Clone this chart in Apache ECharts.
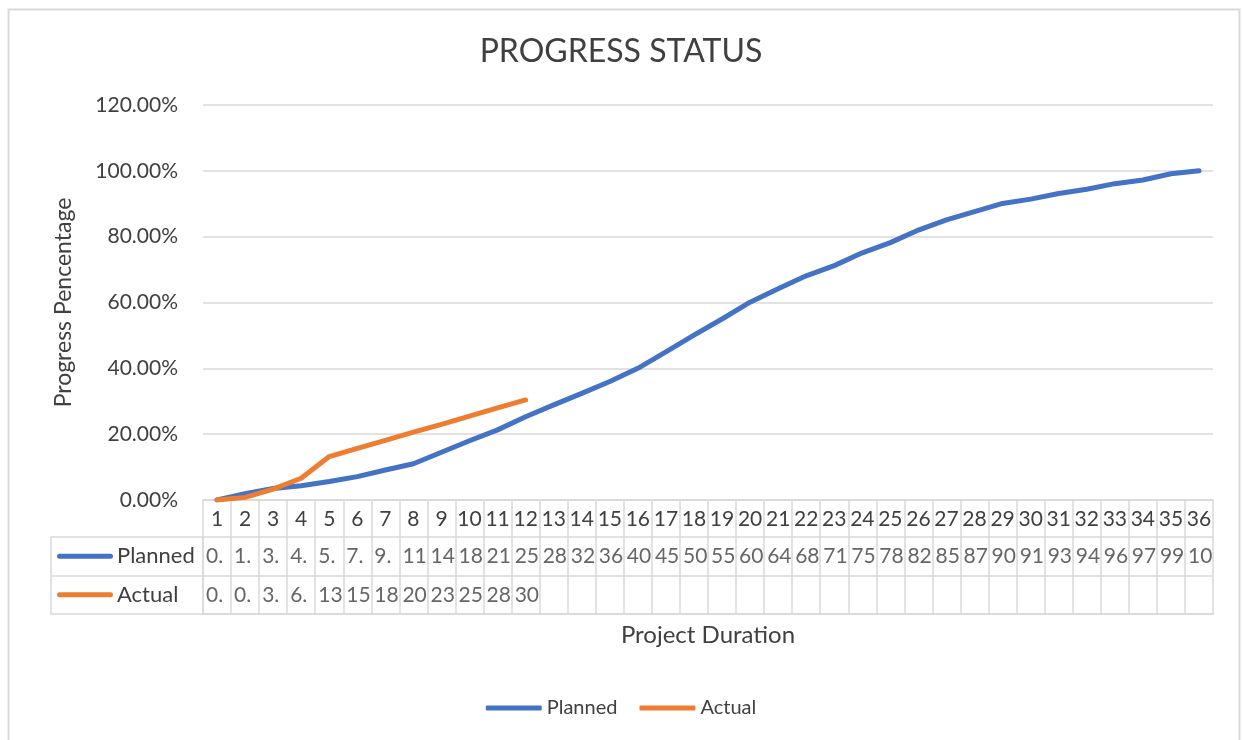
<!DOCTYPE html>
<html><head><meta charset="utf-8">
<script src="https://cdn.jsdelivr.net/npm/echarts@6/dist/echarts.min.js"></script>
<style>html,body{margin:0;padding:0;background:#fff}#c{width:1242px;height:740px}</style>
</head><body><div id="c"></div>
<script>
const durations = ['1','2','3','4','5','6','7','8','9','10','11','12','13','14','15','16','17','18','19','20','21','22','23','24','25','26','27','28','29','30','31','32','33','34','35','36'];
const planned = [0, 1.9, 3.5, 4.3, 5.6, 7.1, 9.1, 11.0, 14.5, 18.0, 21.3, 25.3, 28.9, 32.4, 36.0, 40.0, 45.0, 50.1, 55.0, 60.1, 64.2, 68.1, 71.2, 75.1, 78.2, 82.0, 85.1, 87.6, 90.1, 91.4, 93.1, 94.4, 96.1, 97.2, 99.1, 100.0];
const actual = [0, 0.8, 3.3, 6.6, 13.2, 15.7, 18.1, 20.6, 23.0, 25.5, 28.0, 30.4];
const seriesNames = ['Planned', 'Actual'];
const yMin = 0, yMax = 120, yStep = 20;

const BLUE = '#4472C4', ORANGE = '#ED7D31', GRID = '#d9d9d9', TXT = '#404040', FONT = 'Lato';
const pct = v => Number(v).toFixed(2) + '%';
const gl = {color: GRID, width: 1.5};

const chart = echarts.init(document.getElementById('c'), null, {renderer: 'canvas'});

function tableSeries(name, arr) {
  return {
    type: 'scatter', name: 'tbl-' + name, xAxisIndex: 1, yAxisIndex: 1, silent: true,
    symbol: 'rect', symbolSize: [28, 38], itemStyle: {color: 'rgba(0,0,0,0)'},
    encode: {x: 0, y: 1},
    data: arr.map((v, i) => [durations[i], name, v]),
    label: {show: true, position: 'insideLeft', distance: 3,
      formatter: p => pct(p.value[2]), width: 27, overflow: 'truncate', ellipsis: '',
      fontSize: 21, color: TXT, fontFamily: FONT},
    emphasis: {disabled: true}, z: 5
  };
}

chart.setOption({
  animation: false,
  backgroundColor: '#fff',
  title: {text: 'PROGRESS STATUS', left: 'center', top: 31,
    textStyle: {fontSize: 32, fontWeight: 'normal', color: TXT, fontFamily: FONT}},
  legend: {data: seriesNames, top: 693, left: 'center', icon: 'roundRect', itemWidth: 56, itemHeight: 5,
    itemGap: 22, textStyle: {fontSize: 20, color: TXT, fontFamily: FONT}},
  graphic: [{type: 'rect', left: 6, top: 7, silent: true, shape: {width: 1231, height: 760},
    style: {fill: 'none', stroke: GRID, lineWidth: 2}}],
  grid: [
    {left: 203, right: 29, top: 105, bottom: 240},
    {left: 203, right: 29, top: 537, height: 77}
  ],
  xAxis: [
    {type: 'category', gridIndex: 0, data: durations, boundaryGap: true,
      axisLine: {lineStyle: gl}, axisTick: {show: true, interval: 0, length: 37, lineStyle: gl},
      axisLabel: {interval: 0, margin: 9, fontSize: 21, color: TXT, fontFamily: FONT},
      splitLine: {show: false}},
    {type: 'category', gridIndex: 1, data: durations, boundaryGap: true,
      axisLine: {show: true, lineStyle: gl}, axisTick: {show: false}, axisLabel: {show: false},
      splitLine: {show: true, interval: 0, lineStyle: gl},
      name: 'Project Duration', nameLocation: 'middle', nameGap: 9,
      nameTextStyle: {fontSize: 24, color: TXT, fontFamily: FONT}}
  ],
  yAxis: [
    {type: 'value', gridIndex: 0, min: yMin, max: yMax, interval: yStep,
      axisLine: {show: false}, axisTick: {show: false},
      axisLabel: {formatter: v => pct(v), margin: 25, fontSize: 21, color: TXT, fontFamily: FONT},
      splitLine: {lineStyle: gl},
      name: 'Progress Pencentage', nameLocation: 'middle', nameGap: 128, nameRotate: 90,
      nameTextStyle: {fontSize: 23, color: TXT, fontFamily: FONT}},
    {type: 'category', gridIndex: 1, data: seriesNames, inverse: true, boundaryGap: true,
      axisLine: {show: true, lineStyle: gl},
      axisTick: {show: true, interval: 0, length: 152, lineStyle: gl},
      splitLine: {show: true, interval: 0, lineStyle: gl},
      axisLabel: {interval: 0, margin: 146, align: 'left',
        formatter: (v) => '{k' + v + '|}{t|' + v + '}',
        rich: {
          kPlanned: {width: 56, height: 5, backgroundColor: BLUE, borderRadius: 3},
          kActual: {width: 56, height: 5, backgroundColor: ORANGE, borderRadius: 3},
          t: {fontSize: 22, color: TXT, fontFamily: FONT, padding: [0, 0, 0, 4]}
        }}},
    {type: 'category', gridIndex: 1, data: seriesNames, position: 'left', offset: 152,
      axisLine: {show: true, lineStyle: gl}, axisTick: {show: false}, axisLabel: {show: false},
      splitLine: {show: false}}
  ],
  series: [
    {type: 'line', name: 'Planned', data: planned, xAxisIndex: 0, yAxisIndex: 0, showSymbol: false,
      lineStyle: {width: 5, color: BLUE, cap: 'round', join: 'round'}, itemStyle: {color: BLUE}, z: 3},
    {type: 'line', name: 'Actual', data: actual, xAxisIndex: 0, yAxisIndex: 0, showSymbol: false,
      lineStyle: {width: 5, color: ORANGE, cap: 'round', join: 'round'}, itemStyle: {color: ORANGE}, z: 4},
    tableSeries('Planned', planned),
    tableSeries('Actual', actual)
  ]
});
</script></body></html>
